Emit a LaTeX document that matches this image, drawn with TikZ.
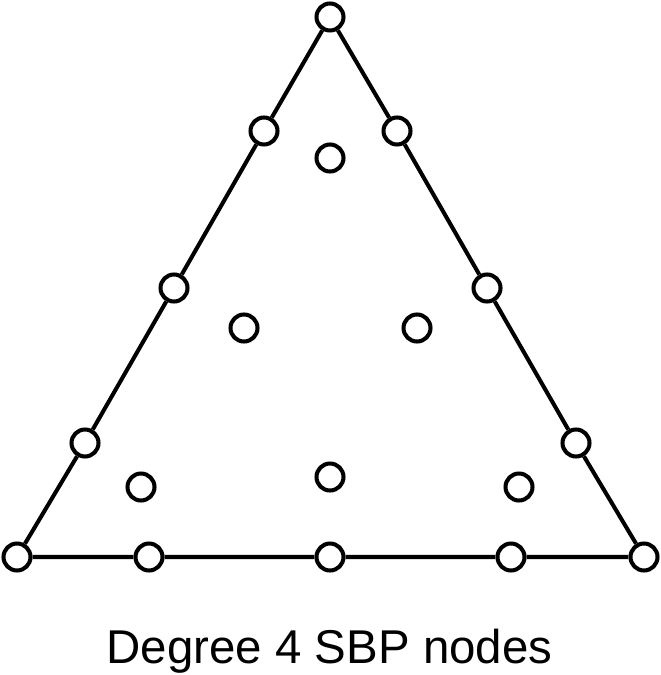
\documentclass[tikz,border=0pt]{standalone}
\usepackage{fontspec}
\setmainfont{Liberation Sans}
\begin{document}
\begin{tikzpicture}[x=0.02cm,y=-0.02cm,
    sbp/.style={circle,draw,fill=white,line width=2.3pt,minimum size=0.54cm,inner sep=0pt},
    edge/.style={line width=2.3pt}]
    \useasboundingbox (0,0) rectangle (661,675);

    % boundary nodes
    \foreach \n/\x/\y in {b1/17/557,b2/149/557,b3/330/557,b4/511/557,b5/644/557,
        r2/576/443,r3/487/288,r4/397/131,t/330/17,
        l4/264/131,l3/174/288,l2/85/443} {
        \node[sbp] (\n) at (\x,\y) {};
    }
    % interior nodes
    \foreach \n/\x/\y in {i1/330/158,i2/244/328,i3/417/328,
        i4/141/487,i5/330/477,i6/519/487} {
        \node[sbp] (\n) at (\x,\y) {};
    }

    \draw[edge] (b1) -- (b2) -- (b3) -- (b4) -- (b5) -- (r2) -- (r3) -- (r4)
        -- (t) -- (l4) -- (l3) -- (l2) -- (b1);

    \node[anchor=base] (title) at (329.5,663) {\fontsize{27}{32}\selectfont Degree 4 SBP nodes};
\end{tikzpicture}
\end{document}
